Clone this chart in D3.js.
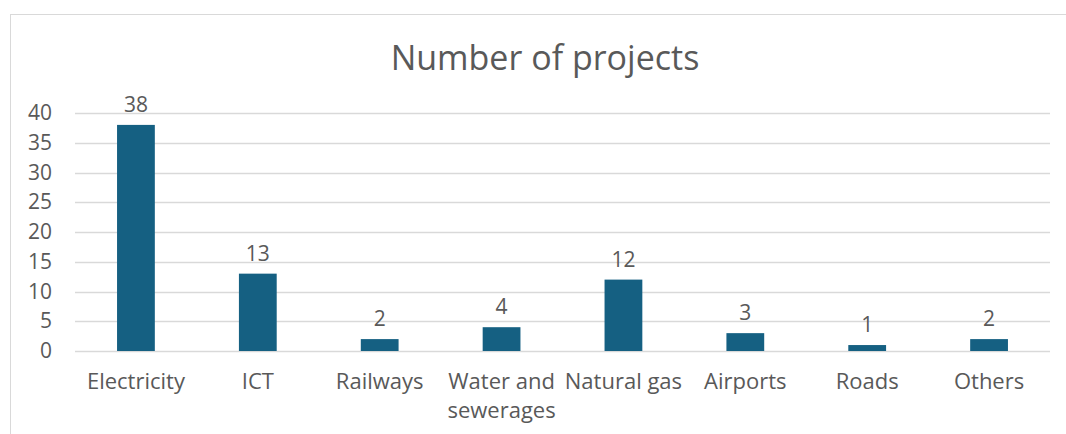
<!DOCTYPE html>
<html>
<head>
<meta charset="utf-8">
<script src="https://cdn.jsdelivr.net/npm/d3@7"></script>
<style>
  body { margin: 0; background: #fff; }
  text { font-family: "Open Sans", sans-serif; fill: #595959; }
</style>
</head>
<body>
<div id="vis"></div>
<script>
const width = 1066;
const height = 434;

// data
const categories = ['Electricity', 'ICT', 'Railways', 'Water and sewerages', 'Natural gas', 'Airports', 'Roads', 'Others'];
const projects = [38, 13, 2, 4, 12, 3, 1, 2];
const yTicks = [0, 5, 10, 15, 20, 25, 30, 35, 40];

const margin = {left: 75, right: 16, top: 113, bottom: 83};

const svg = d3.select('#vis')
    .append('svg')
    .attr('width', width)
    .attr('height', height);

// chart border
svg.append('rect')
    .attr('x', 10.5)
    .attr('y', 14.5)
    .attr('width', 1080)
    .attr('height', 440)
    .style('fill', 'none')
    .style('stroke', '#d9d9d9');

const x = d3.scaleBand()
    .domain(categories)
    .range([margin.left, width - margin.right])
    .paddingInner(0.69)
    .paddingOuter(0.345);

const y = d3.scaleLinear()
    .domain([0, 40])
    .range([height - margin.bottom, margin.top]);

// gridlines
svg.append('g')
    .selectAll('line')
    .data(yTicks)
    .join('line')
    .attr('x1', margin.left)
    .attr('x2', width - margin.right)
    .attr('y1', d => Math.round(y(d)) + 0.5)
    .attr('y2', d => Math.round(y(d)) + 0.5)
    .style('stroke', '#d9d9d9')
    .style('stroke-width', 1.5);

// y axis labels
const yAxis = d3.axisLeft(y).tickValues(yTicks).tickSize(0).tickPadding(0);
svg.append('g')
    .attr('transform', `translate(${margin.left - 23},0)`)
    .call(yAxis)
    .call(g => g.select('.domain').remove())
    .selectAll('text')
    .style('font-size', '21px')
    .style('font-family', '"Open Sans", sans-serif')
    .attr('fill', '#595959');

// bars
svg.selectAll('.bar')
    .data(projects)
    .join('rect')
    .attr('class', 'bar')
    .attr('x', (d, i) => x(categories[i]))
    .attr('y', d => y(d))
    .attr('width', x.bandwidth())
    .attr('height', d => y(0) - y(d))
    .style('fill', '#156082');

// value labels
svg.selectAll('.label')
    .data(projects)
    .join('text')
    .attr('class', 'label')
    .attr('x', (d, i) => x(categories[i]) + x.bandwidth() / 2)
    .attr('y', d => y(d) - 13)
    .attr('text-anchor', 'middle')
    .style('font-size', '21px')
    .text(d => d);

// category labels
const catLines = {'Water and sewerages': ['Water and', 'sewerages']};
svg.selectAll('.cat')
    .data(categories)
    .join('text')
    .attr('class', 'cat')
    .attr('x', d => x(d) + x.bandwidth() / 2)
    .attr('y', 389)
    .attr('text-anchor', 'middle')
    .style('font-size', '22px')
    .each(function(d) {
        const lines = catLines[d] || [d];
        d3.select(this).selectAll('tspan')
            .data(lines)
            .join('tspan')
            .attr('x', x(d) + x.bandwidth() / 2)
            .attr('dy', (l, i) => i === 0 ? 0 : 29)
            .text(l => l);
    });

// title
svg.append('text')
    .attr('x', 545)
    .attr('y', 70)
    .attr('text-anchor', 'middle')
    .style('font-size', '34px')
    .text('Number of projects');
</script>
</body>
</html>
